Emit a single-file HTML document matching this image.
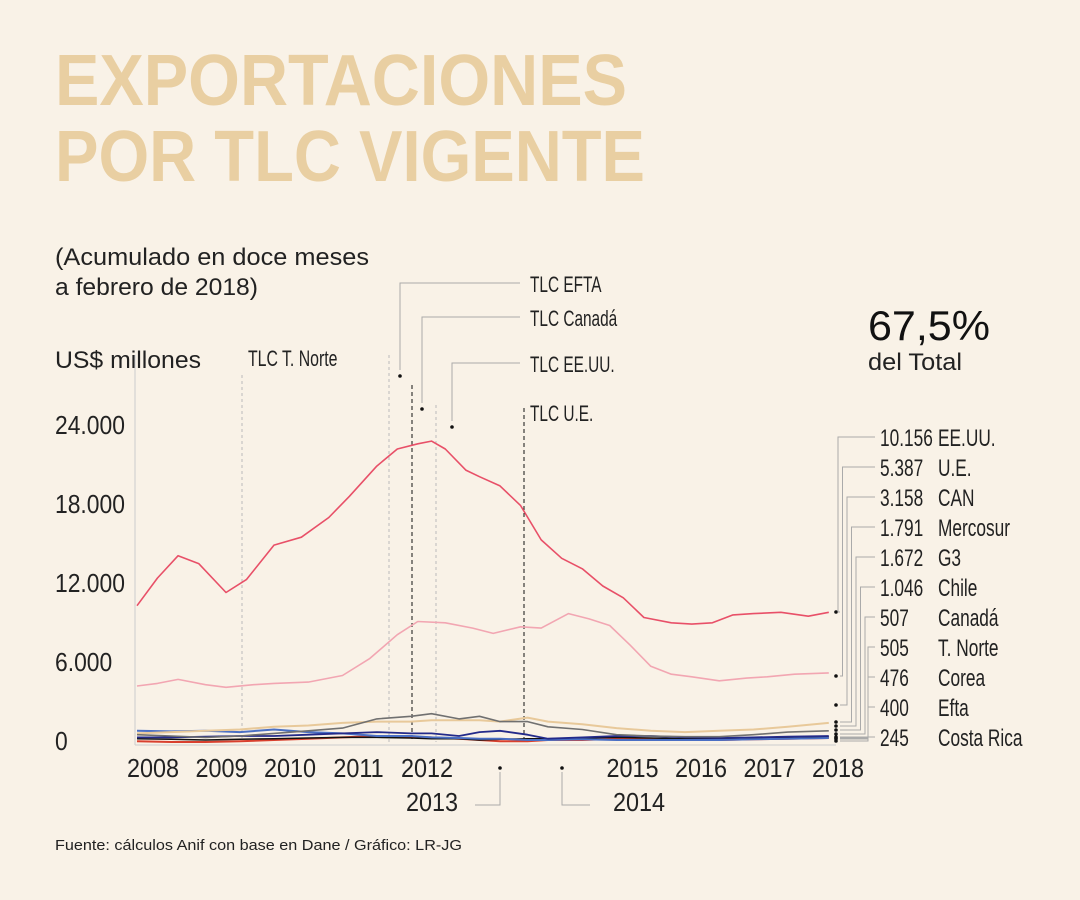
<!DOCTYPE html>
<html><head><meta charset="utf-8"><style>
html,body{margin:0;padding:0;background:#f9f2e7;}
svg{display:block;font-family:"Liberation Sans",sans-serif;}
</style></head><body>
<svg id="chart" width="1080" height="900" viewBox="0 0 1080 900" xmlns="http://www.w3.org/2000/svg">
<rect width="1080" height="900" fill="#f9f2e7"/>
<text x="55" y="105" font-size="72" font-weight="bold" fill="#e9cfa2" textLength="572" lengthAdjust="spacingAndGlyphs">EXPORTACIONES</text>
<text x="55" y="181" font-size="72" font-weight="bold" fill="#e9cfa2" textLength="590" lengthAdjust="spacingAndGlyphs">POR TLC VIGENTE</text>
<text x="55" y="265" font-size="24" fill="#222" textLength="314" lengthAdjust="spacingAndGlyphs">(Acumulado en doce meses</text>
<text x="55" y="295" font-size="24" fill="#222" textLength="203" lengthAdjust="spacingAndGlyphs">a febrero de 2018)</text>
<text x="55" y="368" font-size="24" fill="#222" textLength="146" lengthAdjust="spacingAndGlyphs">US$ millones</text>
<text x="868" y="340" font-size="42" fill="#111" textLength="122" lengthAdjust="spacingAndGlyphs">67,5%</text>
<text x="868" y="370" font-size="24" fill="#222" textLength="94" lengthAdjust="spacingAndGlyphs">del Total</text>
<text x="55" y="850" font-size="15" fill="#222" textLength="407" lengthAdjust="spacingAndGlyphs">Fuente: cálculos Anif con base en Dane / Gráfico: LR-JG</text>
<g id="plot"></g>
</svg>
<script>
const yTicks=[0,6000,12000,18000,24000];
const yTickLabels=["0","6.000","12.000","18.000","24.000"];
const xYears=[2008,2009,2010,2011,2012,2015,2016,2017,2018];
const seriesNames=["EE.UU.","U.E.","CAN","Mercosur","G3","Chile","Canadá","T. Norte","Corea","Efta","Costa Rica"];
const seriesValuesLabels=["10.156","5.387","3.158","1.791","1.672","1.046","507","505","476","400","245"];
const tUS=[2008.0,2008.3,2008.6,2008.9,2009.3,2009.6,2010.0,2010.4,2010.8,2011.1,2011.5,2011.8,2012.1,2012.3,2012.5,2012.8,2013.0,2013.3,2013.6,2013.9,2014.2,2014.5,2014.8,2015.1,2015.4,2015.8,2016.1,2016.4,2016.7,2017.0,2017.4,2017.8,2018.1];
const vUS=[10200,12300,14000,13400,11200,12200,14800,15400,16900,18500,20800,22100,22500,22700,22100,20500,20000,19300,17800,15200,13800,13000,11700,10800,9300,8900,8800,8900,9500,9600,9700,9400,9700];
const tUE=[2008.0,2008.3,2008.6,2009.0,2009.3,2009.7,2010.0,2010.5,2011.0,2011.4,2011.8,2012.1,2012.5,2012.9,2013.2,2013.6,2013.9,2014.3,2014.6,2014.9,2015.2,2015.5,2015.8,2016.1,2016.5,2016.9,2017.2,2017.6,2018.1];
const vUE=[4100,4300,4600,4200,4000,4200,4300,4400,4900,6200,8000,9000,8900,8500,8100,8600,8500,9600,9200,8700,7200,5600,5000,4800,4500,4700,4800,5000,5100];
const tSmall=[2008.0,2008.5,2009.0,2009.5,2010.0,2010.5,2011.0,2011.5,2012.0,2012.3,2012.7,2013.0,2013.3,2013.7,2014.0,2014.5,2015.0,2015.5,2016.0,2016.5,2017.0,2017.5,2018.1];
const vCAN=[400,300,200,300,500,700,900,1600,1800,2000,1600,1800,1400,1400,1000,800,400,300,250,250,400,600,700];
const vMercosur=[500,600,700,800,1000,1100,1300,1400,1400,1500,1500,1500,1400,1700,1400,1200,900,700,600,700,800,1000,1300];
const vG3=[700,650,700,600,800,600,500,300,300,200,150,100,100,0,0,50,0,0,0,0,50,100,150];
const vChile=[200,200,250,300,300,400,500,600,500,500,300,600,700,400,100,200,300,300,200,150,200,250,300];
const vOther=[100,50,0,50,100,150,200,200,150,100,100,0,50,100,100,150,200,150,100,100,150,200,250];
const vRed=[-100,-150,-150,-100,0,100,200,300,200,200,100,0,-100,-100,0,0,100,100,0,0,50,100,150];
const S="http://www.w3.org/2000/svg";
const g=document.getElementById('plot');
const xS=t=>137+(t-2008)*68.5;
const yS=v=>740-v*(316/24000);
function el(tag,attrs,parent){const e=document.createElementNS(S,tag);for(const k in attrs)e.setAttribute(k,attrs[k]);(parent||g).appendChild(e);return e;}
function ctext(x,y,size,str,anchor,sx){const t=el('text',{x:0,y:0,'font-size':size,fill:'#222','text-anchor':anchor||'start',transform:`translate(${x},${y}) scale(${sx||0.78},1)`});t.textContent=str;return t;}
const ax=el('line',{x1:135,y1:355,x2:135,y2:745,stroke:'#ccc','stroke-width':1});


const bx=el('line',{x1:135,y1:745,x2:836,y2:745,stroke:'#ccc','stroke-width':1});


yTicks.forEach((v,i)=>{const t=ctext(55,yS(v)+10,26,yTickLabels[i],'start',0.88);

});
xYears.forEach(y=>{const t=ctext(xS(y)+16,777,26,String(y),'middle',0.9);

});
[[2013,500,'end',475,406],[2014,562,'start',590,613]].forEach(([yr,x,a,x2,tx])=>{
el('circle',{cx:x,cy:768,r:1.8,fill:'#111'});
el('polyline',{points:`${x},772 ${x},805 ${x2},805`,fill:'none',stroke:'#aaa','stroke-width':1});
const t=ctext(tx,811,26,String(yr),'start',0.9);

});
function vline(x,y1,dash,col,name){const l=el('line',{x1:x,y1:y1,x2:x,y2:742,stroke:col,'stroke-width':1,'stroke-dasharray':dash});

}
vline(242,375,'3,3','#bbb','tlc-tnorte-line');
vline(389,355,'3,3','#bbb','tlc-efta-line');
vline(412,385,'4,3','#111','tlc-canada-line');
vline(436,405,'3,3','#bbb','tlc-eeuu-line');
vline(524,408,'4,3','#111','tlc-ue-line');
const tn=ctext(248,366,22,'TLC T. Norte','start',0.72);


[[400,376,283,'TLC EFTA'],[422,409,317,'TLC Canadá'],[452,427,363,'TLC EE.UU.']].forEach(([x,y,ly,txt])=>{
el('circle',{cx:x,cy:y,r:1.8,fill:'#111'});
el('polyline',{points:`${x},${y-6} ${x},${ly} 520,${ly}`,fill:'none',stroke:'#aaa','stroke-width':1});
const t=ctext(530,ly+9,22,txt,'start',0.7);

});
const tu=ctext(530,421,22,'TLC U.E.','start',0.7);


function line(ts,vs,col,w,name){const p=el('polyline',{points:ts.map((t,i)=>xS(t).toFixed(1)+','+yS(vs[i]).toFixed(1)).join(' '),fill:'none',stroke:col,'stroke-width':w,'stroke-linejoin':'round'});

}
line(tSmall,vRed,'#d9402e',2,'series-costa-rica');
line(tSmall,vOther,'#111',1.5,'series-corea');
line(tSmall,vG3,'#4a6fc4',2,'series-g3');
line(tSmall,vChile,'#232a8a',1.8,'series-chile');
line(tSmall,vMercosur,'#e8c99a',2,'series-mercosur');
line(tSmall,vCAN,'#707070',1.6,'series-can');
line(tUE,vUE,'#f2a6b2',1.6,'series-ue');
line(tUS,vUS,'#e85068',1.6,'series-eeuu');
const dotY=[612,676,705,722,726,730,734,737,738,739,741];
seriesNames.forEach((n,i)=>{const ly=437+i*30;
el('circle',{cx:836,cy:dotY[i],r:1.8,fill:'#111'});
const bend=Math.min(838+i*4.5,868);
el('polyline',{points:`840,${dotY[i]} ${bend},${dotY[i]} ${bend},${ly} 875,${ly}`,fill:'none',stroke:'#aaa','stroke-width':1});
const v=ctext(880,ly+9,24,seriesValuesLabels[i],'start',0.72);


const t=ctext(938,ly+9,24,n,'start',0.72);

});
</script>
</body></html>
